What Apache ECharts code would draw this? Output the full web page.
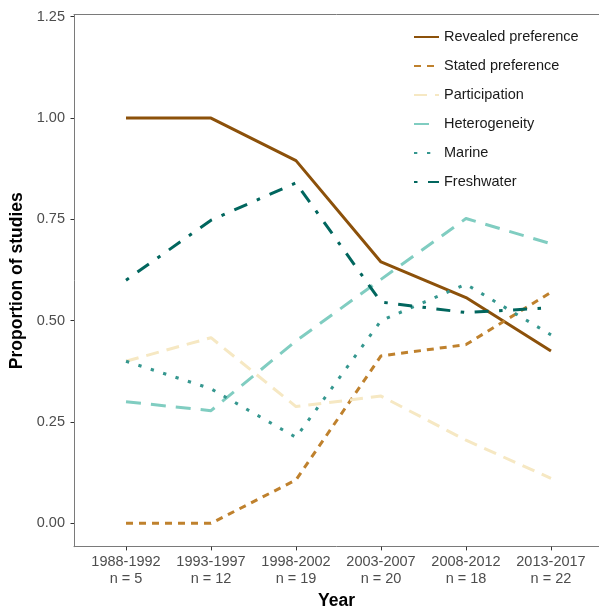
<!DOCTYPE html>
<html>
<head>
<meta charset="utf-8">
<script src="https://cdn.jsdelivr.net/npm/echarts@6/dist/echarts.min.js"></script>
<style>
html,body{margin:0;padding:0;background:#fff;}
#chart{width:599px;height:607px;}
</style>
</head>
<body>
<div id="chart"></div>
<script>
// ---- data ----
const categories = ['1988-1992','1993-1997','1998-2002','2003-2007','2008-2012','2013-2017'];
const sampleSizes = ['n = 5','n = 12','n = 19','n = 20','n = 18','n = 22'];
const yTicks = [0, 0.25, 0.5, 0.75, 1.0, 1.25];
const seriesNames = ['Revealed preference','Stated preference','Participation','Heterogeneity','Marine','Freshwater'];
const revealed      = [1.000, 1.000, 0.895, 0.645, 0.557, 0.425];
const stated        = [0.000, 0.000, 0.107, 0.413, 0.441, 0.570];
const participation = [0.400, 0.458, 0.288, 0.314, 0.205, 0.111];
const heterogeneity = [0.300, 0.278, 0.450, 0.602, 0.752, 0.690];
const marine        = [0.400, 0.332, 0.212, 0.500, 0.590, 0.465];
const freshwater    = [0.600, 0.748, 0.840, 0.546, 0.520, 0.532];

// ---- styles ----
const values = [revealed, stated, participation, heterogeneity, marine, freshwater];
const colors = ['#8C510A','#BF812D','#F6E8C3','#80CDC1','#35978F','#01665E'];
const dashes = ['solid', [7,6], [13,8], [15,10], [3.3,9.7], [3.5,10.5,14,10.5]];
const FONT = '"Liberation Sans", Arial, Helvetica, sans-serif';
const catIdx = categories.map((c, i) => i);

const chart = echarts.init(document.getElementById('chart'), null, {renderer: 'canvas'});

const series = seriesNames.map((name, k) => ({
  name: name,
  type: 'line',
  data: values[k].map((v, i) => [i, v]),
  symbol: 'none',
  showSymbol: false,
  smooth: false,
  z: 2 + k,
  lineStyle: { color: colors[k], width: 3, type: dashes[k], cap: 'butt', join: 'round' },
  itemStyle: { color: colors[k] },
  emphasis: { disabled: true }
}));

const axisLineStyle = { color: '#7a7a7a', width: 1 };

chart.setOption({
  animation: false,
  backgroundColor: '#ffffff',
  textStyle: { fontFamily: FONT },
  grid: { left: 74, right: 0, top: 14.7, bottom: 60.3, containLabel: false, outerBoundsMode: 'none' },
  legend: {
    orient: 'vertical',
    left: 413,
    top: 29.5,
    padding: 0,
    itemWidth: 25,
    itemHeight: 14,
    itemGap: 14,
    data: seriesNames,
    selectedMode: false,
    itemStyle: { opacity: 0, borderWidth: 0 },
    textStyle: { fontFamily: FONT, fontSize: 14.5, lineHeight: 14, color: '#1a1a1a', padding: [0,0,0,0] }
  },
  xAxis: [{
    type: 'value',
    position: 'bottom',
    min: -0.612,
    max: 5.565,
    splitLine: { show: false },
    axisLine: { show: true, onZero: false, lineStyle: axisLineStyle },
    axisTick: { show: true, length: 3.7, customValues: catIdx, lineStyle: { color: '#333333' } },
    axisLabel: {
      customValues: catIdx,
      margin: 7,
      fontSize: 14.5,
      lineHeight: 16.6,
      color: '#4d4d4d',
      fontFamily: FONT,
      formatter: function (v) {
        const i = Math.round(v);
        return categories[i] + '\n' + sampleSizes[i];
      }
    },
    name: 'Year',
    nameLocation: 'middle',
    nameGap: 39,
    nameTextStyle: { fontSize: 17.5, fontWeight: 'bold', color: '#000', fontFamily: FONT }
  }, {
    type: 'value',
    position: 'top',
    min: -0.612,
    max: 5.565,
    splitLine: { show: false },
    axisLine: { show: true, onZero: false, lineStyle: axisLineStyle },
    axisTick: { show: false },
    axisLabel: { show: false }
  }],
  yAxis: {
    type: 'value',
    min: -0.0577,
    max: 1.255,
    splitLine: { show: false },
    axisLine: { show: true, onZero: false, lineStyle: axisLineStyle },
    axisTick: { show: true, length: 3.5, customValues: yTicks, lineStyle: { color: '#333333' } },
    axisLabel: {
      customValues: yTicks,
      margin: 9,
      fontSize: 14.5,
      color: '#4d4d4d',
      fontFamily: FONT,
      formatter: function (v) { return v.toFixed(2); }
    },
    name: 'Proportion of studies',
    nameLocation: 'middle',
    nameGap: 48,
    nameTextStyle: { fontSize: 17.5, fontWeight: 'bold', color: '#000', fontFamily: FONT }
  },
  series: series
});
</script>
</body>
</html>
